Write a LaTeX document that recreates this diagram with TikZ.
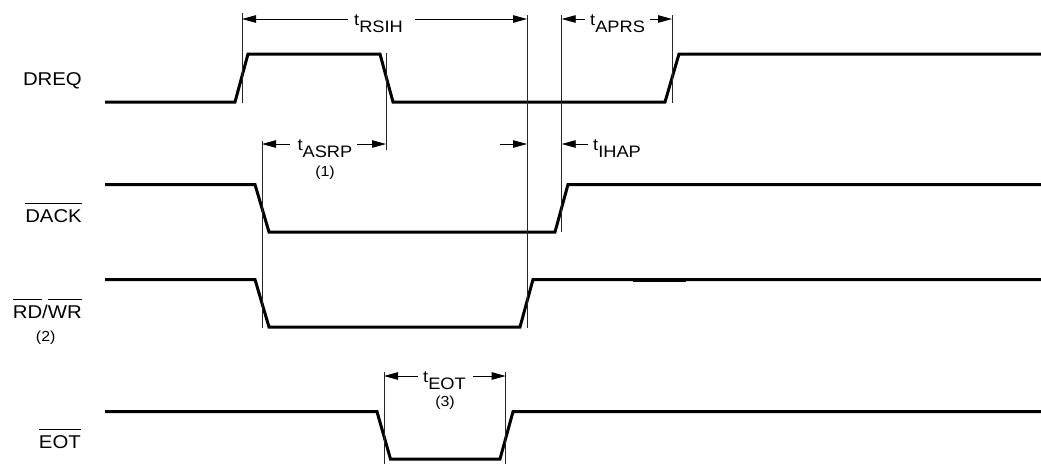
\documentclass[tikz,border=0pt]{standalone}
\usepackage{fontspec}
\setmainfont{Liberation Sans}[FakeStretch=1.1]
\usetikzlibrary{arrows.meta}
\newcommand\olbar[1]{\setbox0\hbox{#1}\rlap{\rule[\dimexpr\ht0+5.5pt\relax]{\wd0}{0.9pt}}\box0}
\newcommand\tlab[1]{t\raisebox{-7pt}{#1}}
\tikzset{
  sig/.style={line width=3pt, line join=miter},
  guide/.style={line width=0.9pt, black!85},
  dim/.style={line width=0.9pt, -{Triangle[length=14pt,width=7.5pt]}},
  lab/.style={font=\fontsize{18.5}{20}\selectfont, inner sep=0pt, anchor=base east},
  tl/.style={font=\fontsize{16.6}{18}\selectfont, inner sep=0pt, anchor=base west},
  note/.style={font=\fontsize{14.5}{16}\selectfont, inner sep=0pt}
}
\begin{document}
\begin{tikzpicture}[x=1pt,y=-1pt]
\useasboundingbox (0,0) rectangle (1041,464);
% signal labels
\node[lab] (ldreq) at (82,85) {DREQ};
\node[lab] (ldack) at (82,222) {\olbar{DACK}};
\node[lab] (lrdwr) at (82,318) {\olbar{RD}/\olbar{WR}};
\node[note] (n2) at (45.7,337.7) {(2)};
\node[lab] (leot) at (81,448) {\olbar{EOT}};
% waveforms
\draw[sig] (105,102) -- (235,102) -- (248,54) -- (380,54) -- (393,102) -- (665,102) -- (679,54) -- (1041,54);
\draw[sig] (105,184.5) -- (255,184.5) -- (269,232) -- (555,232) -- (568,184.5) -- (1041,184.5);
\draw[sig] (105,279.5) -- (255,279.5) -- (269,327) -- (520,327) -- (533,279.5) -- (1041,279.5);
\draw[line width=1pt] (633,281.3) -- (686,281.3);
\draw[sig] (105,411.7) -- (377,411.7) -- (390.5,459) -- (500,459) -- (513,411.7) -- (1041,411.7);
% guide lines
\coordinate (g1t) at (242,13);   \coordinate (g1b) at (242,103);
\coordinate (g2t) at (262,141);  \coordinate (g2b) at (262,328);
\coordinate (g3t) at (386,53);   \coordinate (g3b) at (386,150);
\coordinate (g4t) at (527,15);   \coordinate (g4b) at (527,328);
\coordinate (g5t) at (561.7,15); \coordinate (g5b) at (561.7,232);
\coordinate (g6t) at (672,15);   \coordinate (g6b) at (672,103);
\coordinate (g7t) at (384,372);  \coordinate (g7b) at (384,464);
\coordinate (g8t) at (505.7,372);\coordinate (g8b) at (505.7,464);
\foreach \g in {1,...,8} \draw[guide] (g\g t) -- (g\g b);
% tRSIH
\node[tl] (trsih) at (354,25) {\tlab{RSIH}};
\coordinate (a1) at (348,19); \coordinate (a1e) at (242,19);
\coordinate (a2) at (415,19); \coordinate (a2e) at (527,19);
\draw[dim] (a1) -- (a1e); \draw[dim] (a2) -- (a2e);
% tAPRS
\node[tl] (taprs) at (590,25) {\tlab{APRS}};
\coordinate (b1) at (585,19); \coordinate (b1e) at (561.7,19);
\coordinate (b2) at (650,19); \coordinate (b2e) at (672,19);
\draw[dim] (b1) -- (b1e); \draw[dim] (b2) -- (b2e);
% tASRP
\node[tl] (tasrp) at (297.3,150) {\tlab{ASRP}};
\node[note] (n1) at (325,173) {(1)};
\coordinate (c1) at (290,144); \coordinate (c1e) at (262,144);
\coordinate (c2) at (357,144); \coordinate (c2e) at (386,144);
\draw[dim] (c1) -- (c1e); \draw[dim] (c2) -- (c2e);
% tIHAP
\node[tl] (tihap) at (593,150) {\tlab{IHAP}};
\coordinate (d1) at (500,144); \coordinate (d1e) at (527,144);
\coordinate (d2) at (588,144); \coordinate (d2e) at (561.7,144);
\draw[dim] (d1) -- (d1e); \draw[dim] (d2) -- (d2e);
% tEOT
\node[tl] (teot) at (423,382) {\tlab{EOT}};
\node[note] (n3) at (445,403) {(3)};
\coordinate (e1) at (418,376); \coordinate (e1e) at (384,376);
\coordinate (e2) at (473,376); \coordinate (e2e) at (505.7,376);
\draw[dim] (e1) -- (e1e); \draw[dim] (e2) -- (e2e);
\end{tikzpicture}
\end{document}
